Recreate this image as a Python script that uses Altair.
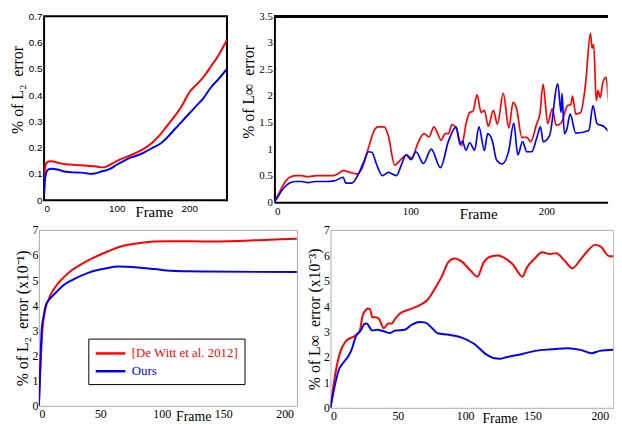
import altair as alt
import pandas as pd

SERIES = ["[De Witt et al. 2012]", "Ours"]
COLORS = ["#ff0000", "#0000ff"]
SERIF = "Liberation Serif"
SANS = "Liberation Sans"

# ---- Panel 1: % of L2 error (top-left)
p1_red_f = [0, 1, 3, 6, 10, 15, 20, 30, 40, 50, 60, 70, 80, 85, 90, 100, 110, 120, 130, 140, 150, 160, 170, 180, 190, 200, 210, 220, 230, 240, 252]
p1_red_v = [0.08, 0.115, 0.14, 0.147, 0.148, 0.146, 0.142, 0.137, 0.135, 0.133, 0.131, 0.129, 0.125, 0.127, 0.134, 0.149, 0.161, 0.172, 0.185, 0.2, 0.222, 0.25, 0.285, 0.32, 0.36, 0.41, 0.44, 0.47, 0.51, 0.55, 0.61]
p1_blue_f = [0, 1, 3, 6, 10, 20, 30, 40, 50, 60, 65, 70, 80, 90, 100, 110, 120, 130, 140, 150, 160, 170, 180, 190, 200, 210, 220, 230, 240, 252]
p1_blue_v = [0.02, 0.07, 0.105, 0.117, 0.12, 0.116, 0.108, 0.106, 0.105, 0.102, 0.1, 0.102, 0.11, 0.118, 0.135, 0.15, 0.163, 0.172, 0.185, 0.2, 0.215, 0.24, 0.27, 0.3, 0.33, 0.36, 0.39, 0.43, 0.46, 0.5]

# ---- Panel 2: % of L-inf error (top-right)
p2_red_f = [0, 3, 6, 9, 12, 16, 20, 24, 28, 32, 38, 43, 47, 51, 53, 56, 61, 64.5, 69, 74, 76.5, 80.8, 83.7, 88.5, 93.3, 97, 101, 105.3, 110, 113.7, 117.3, 119.6, 122.5, 125.7, 128, 130.5, 133.6, 137.6, 141.2, 143.6, 146, 149, 152, 154.4, 157.3, 161, 164, 168.3, 172.4, 175.5, 178, 182, 185.6, 188.5, 192.8, 195.2, 197.6, 201, 204.3, 207.2, 210.8, 215.6, 218, 219.2, 221.6, 225.2, 228.8, 232.4, 233.6, 234.8, 236.7, 238, 239.6, 241.5, 243.9, 246.3, 248, 250]
p2_red_v = [0, 0.15, 0.3, 0.42, 0.48, 0.5, 0.5, 0.48, 0.49, 0.5, 0.5, 0.5, 0.54, 0.6, 0.58, 0.56, 0.53, 0.64, 1.01, 1.38, 1.42, 1.42, 1.26, 0.7, 0.81, 0.89, 0.83, 1.1, 1.29, 1.23, 1.42, 1.32, 1.17, 1.29, 1.29, 1.46, 1.4, 1.06, 1.51, 1.69, 1.71, 2.02, 1.69, 1.73, 1.43, 1.73, 1.47, 2.05, 1.4, 1.88, 1.77, 1.22, 1.22, 1.14, 1.47, 1.66, 2.22, 1.48, 1.76, 1.45, 1.49, 1.82, 1.84, 2.0, 1.66, 1.69, 2.22, 3.18, 2.9, 2.97, 1.91, 2.1, 1.97, 2.25, 2.35, 1.79, 1.85, 1.88]
p2_blue_f = [0, 3, 6, 9, 12, 16, 20, 25, 30, 38, 44, 50.6, 52.5, 56.8, 61.6, 65.7, 69.3, 71.7, 75.3, 79.4, 83.7, 89.7, 93.3, 96.9, 100.5, 104.1, 109.6, 115.3, 122.1, 128, 133.6, 136.5, 138.3, 140.8, 143.6, 147.2, 150.4, 154.4, 156.8, 160.4, 163.3, 167.6, 172.4, 176, 179, 182.5, 185.6, 189.2, 192.8, 195.7, 197.6, 202.4, 208.4, 210.8, 211.5, 213.2, 215, 217.5, 221.6, 231.2, 234.3, 237.2, 242, 248, 250]
p2_blue_v = [0, 0.12, 0.24, 0.32, 0.37, 0.39, 0.39, 0.37, 0.39, 0.39, 0.4, 0.47, 0.36, 0.36, 0.52, 0.76, 0.95, 0.94, 0.7, 0.5, 0.56, 0.5, 0.7, 0.89, 0.8, 0.95, 0.73, 1.0, 0.65, 1.15, 1.42, 1.09, 1.15, 0.98, 1.12, 0.98, 1.42, 0.97, 1.29, 1.14, 0.8, 0.72, 0.98, 1.49, 0.89, 1.14, 0.95, 0.95, 1.2, 1.42, 1.14, 1.26, 2.23, 1.69, 2.05, 1.29, 1.37, 1.66, 1.3, 1.35, 1.82, 1.48, 1.43, 1.28, 1.26]

# ---- Panel 3: % of L2 error (x10^-1) (bottom-left)
p3_red_f = [0, 1, 2, 3, 5, 8, 13.7, 20, 27, 35, 40.6, 54, 67.5, 81, 94, 108, 135, 161.5, 188, 210]
p3_red_v = [0, 1.25, 2.3, 3.1, 3.8, 4.25, 4.75, 5.1, 5.4, 5.65, 5.8, 6.1, 6.35, 6.47, 6.54, 6.55, 6.54, 6.56, 6.61, 6.65]
p3_blue_f = [0, 1, 2.4, 4, 5.6, 8, 13.7, 20, 27, 40.6, 54, 64.8, 81, 94, 108, 121, 135, 210]
p3_blue_v = [0, 1.4, 3.1, 3.6, 4.0, 4.2, 4.5, 4.8, 5.0, 5.3, 5.46, 5.54, 5.5, 5.44, 5.37, 5.35, 5.34, 5.32]

# ---- Panel 4: % of L-inf error (x10^-3) (bottom-right)
p4_red_f = [0, 3.6, 7.2, 10.8, 13.2, 16.8, 19, 21.6, 24, 26.3, 27.5, 29.5, 31, 33.5, 36, 39.5, 43, 45.5, 48, 51.5, 58.7, 66, 72, 78, 82.6, 87.4, 92.2, 97, 104, 109, 113.8, 119.8, 124.5, 129.3, 135.3, 142.5, 146, 152, 157, 163, 167.6, 173.7, 179.6, 185.6, 191.6, 196.4, 201, 207, 210]
p4_red_v = [0, 1.35, 2.19, 2.58, 2.7, 2.79, 2.86, 3.01, 3.66, 3.84, 3.91, 3.87, 3.56, 3.56, 3.5, 3.13, 3.32, 3.32, 3.5, 3.71, 3.87, 4.03, 4.24, 4.73, 5.16, 5.72, 5.87, 5.77, 5.4, 5.16, 5.72, 5.96, 5.99, 5.89, 5.65, 5.16, 5.53, 5.89, 6.12, 6.05, 6.08, 5.8, 5.49, 5.83, 6.21, 6.41, 6.33, 5.96, 5.96]
p4_blue_f = [0, 3.6, 6, 9.6, 13.2, 15.6, 19, 22.8, 25, 26.8, 31, 34.7, 39.5, 44.3, 48, 55, 61, 66, 70.7, 75.5, 80, 87.4, 97, 106.6, 116, 121, 125.7, 130.5, 142.5, 152, 164, 176, 185.6, 194, 200, 210]
p4_blue_v = [0, 0.98, 1.47, 1.78, 2.03, 2.28, 2.83, 3.07, 3.29, 3.32, 3.04, 3.07, 3.01, 2.94, 3.04, 3.07, 3.29, 3.38, 3.35, 3.13, 2.92, 2.88, 2.77, 2.52, 2.09, 1.96, 1.93, 1.99, 2.12, 2.24, 2.3, 2.34, 2.28, 2.15, 2.24, 2.28]


def make_df(rf, rv, bf, bv):
    return pd.DataFrame({
        "frame": rf + bf,
        "value": rv + bv,
        "series": [SERIES[0]] * len(rf) + [SERIES[1]] * len(bf),
        "order": list(range(len(rf))) + list(range(len(bf))),
    })


LABEL_EXPR = "datum.value + ''"


def panel(df, xmax, xvals, ymax, yvals, w, h, ytitle, label_font, label_size,
          title_x, title_y, title_size, stroke, stroke_w, legend=None,
          ylabel_pad=2, ytitle_pad=2, line_w=2, domain=False, ytitle_size=16,
          ytitle_x=None, ytitle_y=None):
    x_axis = alt.Axis(values=xvals, title="Frame", titleX=title_x, titleY=title_y,
                      titleBaseline="alphabetic", titleAlign="center",
                      labelFont=label_font, labelFontSize=label_size, labelColor="black",
                      titleFont=SERIF, titleFontSize=title_size, titleFontWeight="normal",
                      titleColor="black", ticks=False, domain=domain, domainColor="black",
                      domainWidth=2, grid=False, labelPadding=3, labelExpr=LABEL_EXPR)
    y_kw = {}
    if ytitle_x is not None:
        y_kw["titleX"] = ytitle_x
    if ytitle_y is not None:
        y_kw["titleY"] = ytitle_y
    y_axis = alt.Axis(values=yvals, title=ytitle,
                      labelFont=label_font, labelFontSize=label_size, labelColor="black",
                      titleFont=SERIF, titleFontSize=ytitle_size, titleFontWeight="normal",
                      titleColor="black", ticks=False, domain=domain, domainColor="black",
                      domainWidth=2, grid=False, labelPadding=ylabel_pad, titlePadding=ytitle_pad,
                      labelExpr=LABEL_EXPR, **y_kw)
    x_scale = alt.Scale(domain=[0, xmax], nice=False, zero=True)
    y_scale = alt.Scale(domain=[0, ymax], nice=False, zero=True)
    lines = alt.Chart(df).mark_line(strokeWidth=line_w, clip=True, interpolate="monotone").encode(
        x=alt.X("frame:Q", scale=x_scale, axis=x_axis),
        y=alt.Y("value:Q", scale=y_scale, axis=y_axis),
        color=alt.Color("series:N", scale=alt.Scale(domain=SERIES, range=COLORS), legend=legend),
        order="order:Q",
    )
    view = alt.ViewBackground(stroke=stroke, strokeWidth=stroke_w, fill="white") if stroke else \
        alt.ViewBackground(strokeOpacity=0, fill="white")
    if domain:
        top_border = alt.Chart(df).mark_rule(color="black", strokeWidth=2).encode(
            x=alt.XDatum(0, type="quantitative", scale=x_scale, axis=x_axis),
            x2=alt.X2Datum(xmax),
            y=alt.YDatum(ymax, type="quantitative", scale=y_scale, axis=y_axis))
        return alt.layer(lines, top_border).properties(width=w, height=h, view=view)
    return lines.properties(width=w, height=h, view=view)


legend3 = alt.Legend(orient="none", legendX=50, legendY=110, title=None,
                     strokeColor="black", fillColor="white", padding=6,
                     labelFont=SERIF, labelFontSize=13,
                     labelColor={"expr": "datum.label == 'Ours' ? '#0000ff' : '#ff0000'"},
                     symbolType="M-1,0H3", symbolStrokeWidth=2.5, symbolSize=225,
                     rowPadding=2, labelOffset=20)

SP = "\u2002"
p1 = panel(make_df(p1_red_f, p1_red_v, p1_blue_f, p1_blue_v), 252, [0, 100, 200], 0.7,
           [0, 0.1, 0.2, 0.3, 0.4, 0.5, 0.6, 0.7], 185, 186, "% of L₂" + SP + "error", SANS, 10,
           111, 16, 15, "black", 2, ylabel_pad=2, ytitle_pad=3, ytitle_y=74)
p2 = panel(make_df(p2_red_f, p2_red_v, p2_blue_f, p2_blue_v), 245, [0, 100, 200], 3.5,
           [0, 0.5, 1, 1.5, 2, 2.5, 3, 3.5], 337, 188, "% of L∞" + SP + "error", SERIF, 11,
           206, 16, 15, None, 0, line_w=1.7, domain=True, ytitle_y=76)
p3 = panel(make_df(p3_red_f, p3_red_v, p3_blue_f, p3_blue_v), 210, [0, 50, 100, 150, 200], 7,
           [0, 1, 2, 3, 4, 5, 6, 7], 261, 178, "% of L₂" + SP + "error (x10⁻¹)", SERIF, 12,
           156, 15, 14, "#aaaaaa", 1, legend=legend3, ylabel_pad=1, ytitle_pad=0, ytitle_x=-9)
p4 = panel(make_df(p4_red_f, p4_red_v, p4_blue_f, p4_blue_v), 210, [0, 50, 100, 150, 200], 7,
           [0, 1, 2, 3, 4, 5, 6, 7], 286, 180, "% of L∞" + SP + "error (x10⁻³)", SERIF, 12,
           171, 15, 14, "#aaaaaa", 1, ylabel_pad=1, ytitle_pad=0, ytitle_x=-8)

top = alt.hconcat(p1, p2, spacing=13).resolve_scale(color="independent").resolve_legend(color="independent")
bottom = alt.hconcat(p3, p4, spacing=8).resolve_scale(color="independent").resolve_legend(color="independent")
chart = alt.vconcat(top, bottom, spacing=2, center=True).resolve_scale(color="independent") \
    .resolve_legend(color="independent").properties(padding=0)

chart.save("out.html", embed_options={"renderer": "svg", "actions": False})
